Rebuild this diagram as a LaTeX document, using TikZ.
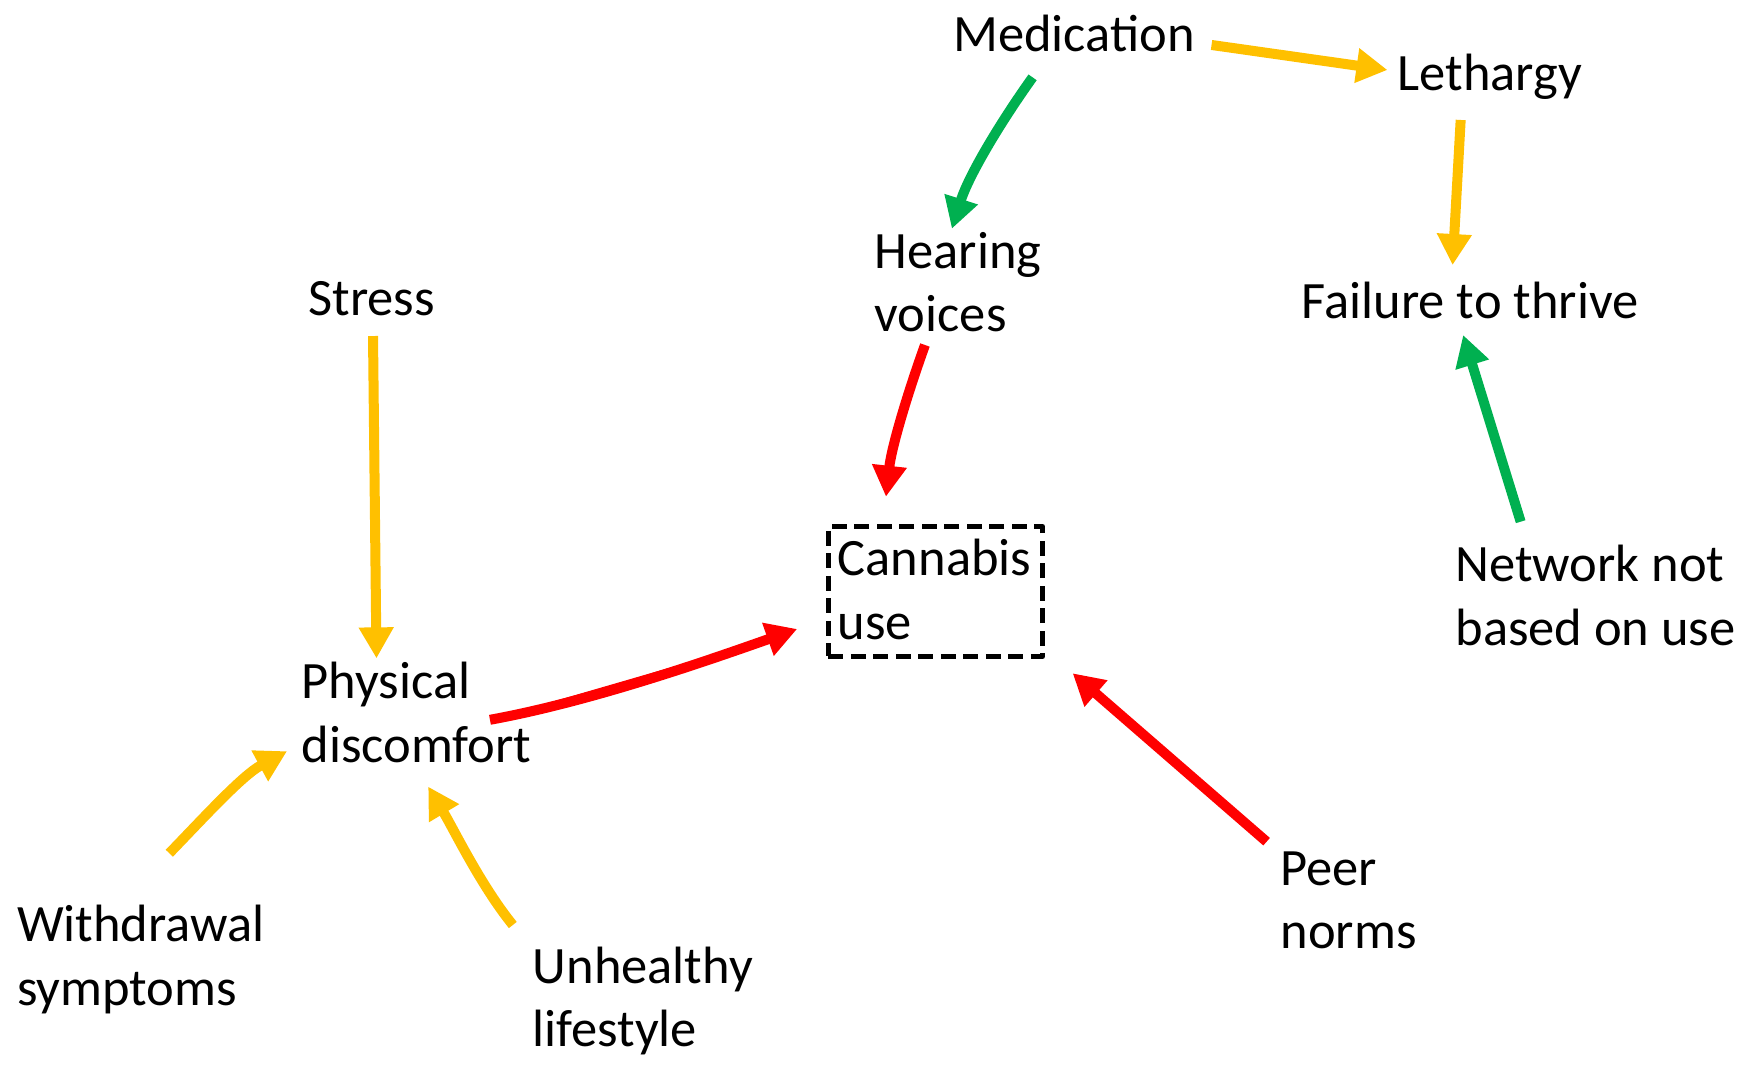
\documentclass[tikz,border=0pt]{standalone}
\usepackage{fontspec}
\setmainfont{Carlito}
\usetikzlibrary{arrows.meta}
\definecolor{ayellow}{HTML}{FFC000}
\definecolor{agreen}{HTML}{00B050}
\definecolor{ared}{HTML}{FF0000}
\begin{document}
\begin{tikzpicture}[x=1.1212pt,y=-1.1212pt,
  label/.style={anchor=north west,inner sep=0pt,align=left,
    font=\fontsize{52.5}{63.4}\selectfont},
  link/.style={line width=10pt,-{Triangle[length=31pt,width=33pt]}},
  ylink/.style={link,draw=ayellow,fill=ayellow},
  glink/.style={link,draw=agreen,fill=agreen},
  rlink/.style={link,draw=ared,fill=ared}]
\useasboundingbox (0,0) rectangle (1568,952);

% factors
\node[label] (med)    at (850,6.5)     {\strut Medication};
\node[label] (leth)   at (1246.5,41.3) {\strut Lethargy};
\node[label] (hear)   at (780,199.7)   {\strut Hearing\\voices};
\node[label] (stress) at (275,241.4)   {\strut Stress};
\node[label] (fail)   at (1161,244.3)  {\strut Failure to thrive};
\node[label] (net)    at (1298,479.2)  {\strut Network not\\based on use};
\node[label] (phys)   at (269,583.4)   {\strut Physical\\discomfort};
\node[label] (peer)   at (1142,749.7)  {\strut Peer\\norms};
\node[label] (wd)     at (15,800.3)    {\strut Withdrawal\\symptoms};
\node[label] (unh)    at (475,837.4)   {\strut Unhealthy\\lifestyle};

% central outcome in a dashed frame
\node[label,draw,line width=5pt,dash pattern=on 15pt off 7.5pt,
  line join=round,inner xsep=9.3pt,inner ysep=4.8pt,text width=195.5pt]
  (cann) at (736.7,467.4) {\strut Cannabis\\use\rule[-12.5pt]{0pt}{12.5pt}};

% influences
\draw[ylink] ([shift={(230.6,33.6)}]med.north west) -- ([shift={(-9,21.1)}]leth.north west);
\draw[ylink] ([shift={(56.3,65.7)}]leth.north west) -- ([shift={(134.6,-7.9)}]fail.north west);
\draw[glink] ([shift={(71,62.5)}]med.north west)
  .. controls +(-29,40.5) and +(15,-47.5) .. ([shift={(69,4.3)}]hear.north west);
\draw[rlink] ([shift={(45,108)}]hear.north west)
  .. controls +(-15.3,42.6) and +(5,-44.6) .. ([shift={(53.5,-24.4)}]cann.north west);
\draw[ylink] ([shift={(57.7,58.3)}]stress.north west) -- ([shift={(66.8,3.8)}]phys.north west);
\draw[rlink] ([shift={(168,58.6)}]phys.north west)
  .. controls +(88,-16) and +(-85,30) .. ([shift={(-25.7,93.6)}]cann.north west);
\draw[glink] ([shift={(58.3,-13.9)}]net.north west) -- ([shift={(144,54.5)}]fail.north west);
\draw[rlink] ([shift={(-12.3,1)}]peer.north west) -- ([shift={(220,133.1)}]cann.north west);
\draw[ylink] ([shift={(136,-39.3)}]wd.north west)
  .. controls +(31,-32) and +(-40,21.6) .. ([shift={(-13,86.6)}]phys.north west);
\draw[ylink] ([shift={(-17.6,-12.4)}]unh.north west)
  .. controls +(-28.4,-35) and +(23,38.4) .. ([shift={(112.9,118.2)}]phys.north west);
\end{tikzpicture}
\end{document}
